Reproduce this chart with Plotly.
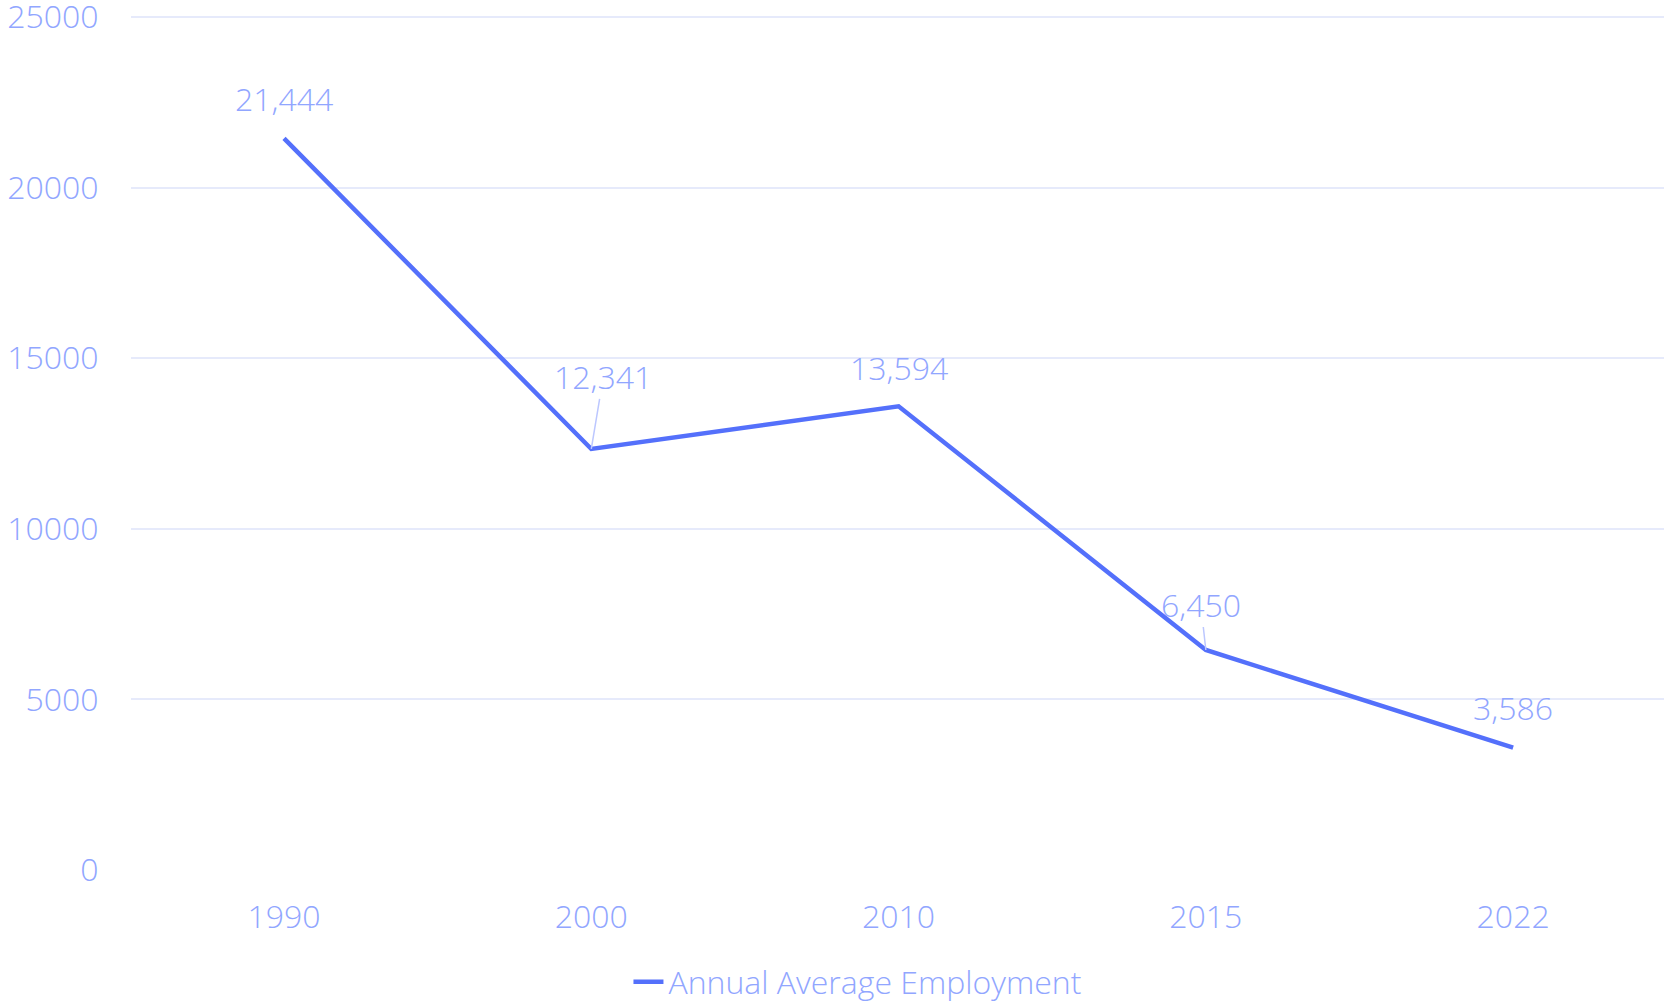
import plotly.graph_objects as go

# ── Design tokens ────────────────────────────────────────────────────────────
BG        = '#ffffff'
LINE      = '#5470fb'
TEXT      = '#91a6ff'
GRID      = '#e6eafb'
ARROW     = '#bcc7ff'
FONT      = 'Open Sans, sans-serif'
FONT_SIZE = 32

# ── Data ─────────────────────────────────────────────────────────────────────
years      = ['1990', '2000', '2010', '2015', '2022']
employment = [21444, 12341, 13594, 6450, 3586]
y_ticks    = [0, 5000, 10000, 15000, 20000, 25000]

# label offsets (px): (dx, dy, with_arrow)
label_offsets = [(0, -40, False), (12, -72, True), (0, -39, False),
                 (-5, -45, True), (0, -40, False)]

fig = go.Figure(go.Scatter(
    x=years,
    y=employment,
    mode='lines',
    name='Annual Average Employment',
    line=dict(color=LINE, width=4.5),
    hovertemplate='%{x}: %{y:,}<extra></extra>',
))

for i, (val, (dx, dy, arrow)) in enumerate(zip(employment, label_offsets)):
    common = dict(
        x=i, y=val,
        text=f'{val:,}',
        font=dict(size=FONT_SIZE, color=TEXT, family=FONT, weight=300),
    )
    if arrow:
        fig.add_annotation(
            **common,
            showarrow=True,
            arrowhead=0,
            arrowwidth=1.5,
            arrowcolor=ARROW,
            ax=dx, ay=dy,
            standoff=0,
            borderpad=0,
        )
    else:
        fig.add_annotation(**common, showarrow=False, xshift=dx, yshift=-dy)

fig.update_layout(
    width=1664, height=1004,
    paper_bgcolor=BG,
    plot_bgcolor=BG,
    font=dict(family=FONT, color=TEXT, size=FONT_SIZE, weight=300),
    margin=dict(l=131, r=0, t=12, b=134),
    showlegend=True,
    legend=dict(
        orientation='h',
        xref='container', yref='container',
        x=0.5153, xanchor='center',
        y=0.0219, yanchor='middle',
        font=dict(size=FONT_SIZE, color=TEXT, family=FONT, weight=300),
        bgcolor='rgba(0,0,0,0)',
    ),
)

fig.update_xaxes(
    type='category', automargin=False,
    showgrid=False, zeroline=False, showline=False,
    ticks='outside', ticklen=19, tickcolor='rgba(0,0,0,0)',
    tickfont=dict(size=FONT_SIZE, color=TEXT, family=FONT, weight=300),
    range=[-0.498, 4.491],
)
fig.update_yaxes(
    automargin=False,
    range=[0, 25150],
    tickvals=y_ticks,
    ticktext=[str(v) for v in y_ticks],
    ticklabeloverflow='allow',
    showgrid=True, gridcolor=GRID, gridwidth=1.5,
    zeroline=False, showline=False,
    ticks='outside', ticklen=25, tickcolor='rgba(0,0,0,0)',
    tickfont=dict(size=FONT_SIZE, color=TEXT, family=FONT, weight=300),
)

# full-window page: drop the browser's default body margin
fig.write_html(
    'out.html',
    config={'displayModeBar': False},
    post_script="document.body.style.margin = '0';",
)
